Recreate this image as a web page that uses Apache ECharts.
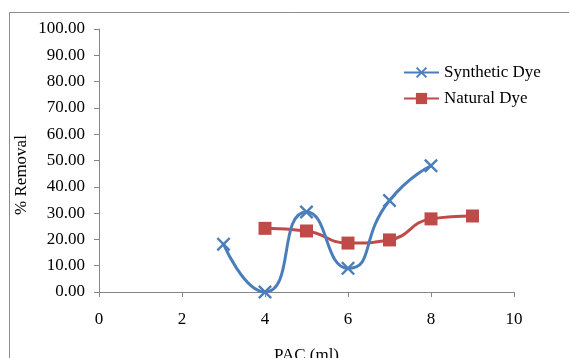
<!DOCTYPE html>
<html><head><meta charset="utf-8">
<script src="https://cdn.jsdelivr.net/npm/echarts@6/dist/echarts.min.js"></script>
<style>html,body{margin:0;padding:0;background:#fff}#c{width:569px;height:358px}</style>
</head><body><div id="c"></div>
<script>
var xTicks = [0, 2, 4, 6, 8, 10];
var yTicks = [0, 10, 20, 30, 40, 50, 60, 70, 80, 90, 100];
var syntheticX = [3, 4, 5, 6, 7, 8];
var syntheticY = [18.2, 0, 30.4, 9.0, 34.8, 48.0];
var naturalX = [4, 5, 6, 7, 8, 9];
var naturalY = [24.2, 23.2, 18.6, 19.8, 27.8, 28.9];

var font = 'Liberation Serif';
var fs = 17;
var xPath = 'path://M0,1.2L1.2,0L5,3.8L8.8,0L10,1.2L6.2,5L10,8.8L8.8,10L5,6.2L1.2,10L0,8.8L3.8,5Z';
function pairs(xs, ys){ return xs.map(function(x,i){return [x, ys[i]];}); }

var chart = echarts.init(document.getElementById('c'));
chart.setOption({
  animation: false,
  grid: {left: 99, right: 55, top: 29, bottom: 66, outerBoundsMode: 'none', containLabel: false},
  graphic: [
    {type:'rect', shape:{x:9.5, y:12.5, width:700, height:500}, style:{fill:'none', stroke:'#8c8c8c', lineWidth:1}, silent:true},
    {type:'text', x:22, y:175, rotation:Math.PI/2, style:{text:'% Removal', font:fs + 'px ' + font, fill:'#000', align:'center', verticalAlign:'middle'}}
  ],
  legend: {
    orient:'vertical', left:398, top:59, itemWidth:35, itemHeight:14, itemGap:9,
    textStyle:{fontFamily:font, fontSize:fs, color:'#000'},
    data:['Synthetic Dye','Natural Dye']
  },
  xAxis: {
    type:'value', min:0, max:10, interval:2,
    name:'PAC (ml)', nameLocation:'middle', nameGap:55,
    nameTextStyle:{fontFamily:font, fontSize:fs, color:'#000'},
    axisLine:{show:true, onZero:false, lineStyle:{color:'#868686', width:1}},
    axisTick:{show:true, length:5, inside:false, lineStyle:{color:'#868686'}},
    axisLabel:{fontFamily:font, fontSize:fs, color:'#000', margin:19, formatter:function(v){return xTicks.indexOf(v)>=0 ? String(v) : '';}},
    splitLine:{show:false}
  },
  yAxis: {
    type:'value', min:0, max:100, interval:10,
    axisLine:{show:true, lineStyle:{color:'#868686', width:1}},
    axisTick:{show:true, length:5, lineStyle:{color:'#868686'}},
    axisLabel:{fontFamily:font, fontSize:fs, color:'#000', margin:14, formatter:function(v){return yTicks.indexOf(v)>=0 ? v.toFixed(2) : '';}},
    splitLine:{show:false}
  },
  series: [
    {name:'Synthetic Dye', type:'line', smooth:0.6, data:pairs(syntheticX, syntheticY),
     symbol:xPath, symbolSize:14, lineStyle:{color:'#4A7EBB', width:3},
     itemStyle:{color:'#4A7EBB'}, z:3},
    {name:'Natural Dye', type:'line', smooth:0.5, data:pairs(naturalX, naturalY),
     symbol:'rect', symbolSize:13, lineStyle:{color:'#BE4B48', width:3},
     itemStyle:{color:'#BE4B48'}, z:2}
  ]
});
</script></body></html>
